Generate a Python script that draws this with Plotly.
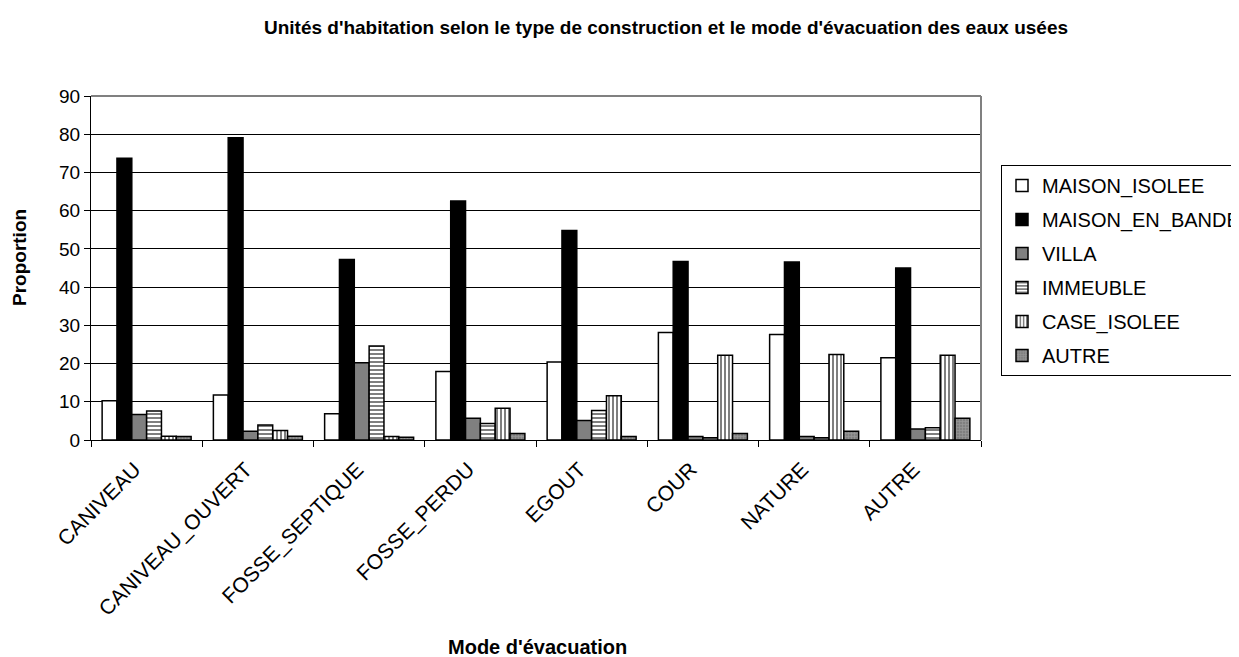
import plotly.graph_objects as go

categories = ["CANIVEAU", "CANIVEAU_OUVERT", "FOSSE_SEPTIQUE", "FOSSE_PERDU",
              "EGOUT", "COUR", "NATURE", "AUTRE"]

maison_isolee = [10.3, 11.8, 6.9, 17.9, 20.4, 28.1, 27.6, 21.5]
maison_en_bande = [73.7, 79.1, 47.2, 62.5, 54.8, 46.7, 46.6, 45.0]
villa = [6.7, 2.3, 20.2, 5.7, 5.1, 0.9, 0.9, 2.9]
immeuble = [7.6, 3.9, 24.6, 4.3, 7.7, 0.6, 0.6, 3.2]
case_isolee = [1.0, 2.5, 0.9, 8.3, 11.6, 22.2, 22.4, 22.2]
autre = [0.9, 1.0, 0.7, 1.7, 0.9, 1.7, 2.3, 5.7]

series = [
    ("MAISON_ISOLEE", maison_isolee, dict(color="white")),
    ("MAISON_EN_BANDE", maison_en_bande, dict(color="black")),
    ("VILLA", villa, dict(color="#808080")),
    ("IMMEUBLE", immeuble, dict(color="white", pattern=dict(shape="-", fgcolor="black", bgcolor="white", size=4, solidity=0.5, fillmode="overlay"))),
    ("CASE_ISOLEE", case_isolee, dict(color="white", pattern=dict(shape="|", fgcolor="black", bgcolor="white", size=4, solidity=0.5, fillmode="overlay"))),
    ("AUTRE", autre, dict(color="#808080", pattern=dict(shape="+", fgcolor="#b0b0b0", bgcolor="#808080", size=3, solidity=0.4, fillmode="overlay"))),
]

fig = go.Figure()
for i, (name, vals, mk) in enumerate(series):
    marker = dict(mk)
    marker["line"] = dict(color="black", width=1.5)
    fig.add_trace(go.Bar(x=categories, y=vals, name=name, marker=marker,
                         legendgroup=f"g{i}"))

# page has an 8px body margin, so the figure is 8px smaller in each direction
W, H = 1231, 649
fig.update_layout(
    width=W, height=H,
    paper_bgcolor="white", plot_bgcolor="white",
    margin=dict(l=83, r=258, t=88, b=217, autoexpand=False),
    font=dict(family="Arial, Liberation Sans, sans-serif", size=19, color="black"),
    title=dict(text="<b>Unités d'habitation selon le type de construction et le mode d'évacuation des eaux usées</b>",
               x=(666 - 8) / W, xanchor="center", y=1 - 19 / H, yanchor="middle",
               font=dict(size=19)),
    barmode="group", bargap=0.2, bargroupgap=0,
    showlegend=True,
    legend=dict(xref="container", yref="container",
                x=(1001 - 8) / W, xanchor="left", y=1 - (165 - 8) / H, yanchor="top",
                bordercolor="black", borderwidth=1, bgcolor="white",
                font=dict(size=20), traceorder="grouped", tracegroupgap=5,
                itemwidth=30),
    xaxis=dict(tickangle=-45, showline=True, linecolor="black", linewidth=1,
               ticks="outside", tickson="boundaries", ticklen=6, tickcolor="black",
               tickfont=dict(size=21), showgrid=False, automargin=False,
               ticklabelstandoff=8, ticklabelshift=-12),
    yaxis=dict(range=[0, 90], dtick=10, showline=True, linecolor="black", linewidth=1,
               ticks="outside", ticklen=6, tickcolor="black", tickfont=dict(size=19),
               showgrid=True, gridcolor="black", gridwidth=1, zeroline=False,
               automargin=False),
    annotations=[
        dict(text="<b>Mode d'évacuation</b>", xref="paper", yref="paper",
             x=(537 - 91) / 890, y=(440 - 647) / 344, xanchor="center", yanchor="middle",
             showarrow=False, font=dict(size=20)),
        dict(text="<b>Proportion</b>", xref="paper", yref="paper",
             x=(20 - 91) / 890, y=(440 - 258) / 344, xanchor="center", yanchor="middle",
             textangle=-90, showarrow=False, font=dict(size=19)),
    ],
    shapes=[
        dict(type="line", xref="paper", yref="paper", x0=0, x1=1, y0=1, y1=1,
             line=dict(color="#808080", width=2)),
        dict(type="line", xref="paper", yref="paper", x0=1, x1=1, y0=0, y1=1,
             line=dict(color="#808080", width=2)),
    ],
)

fig.write_html("out.html")
